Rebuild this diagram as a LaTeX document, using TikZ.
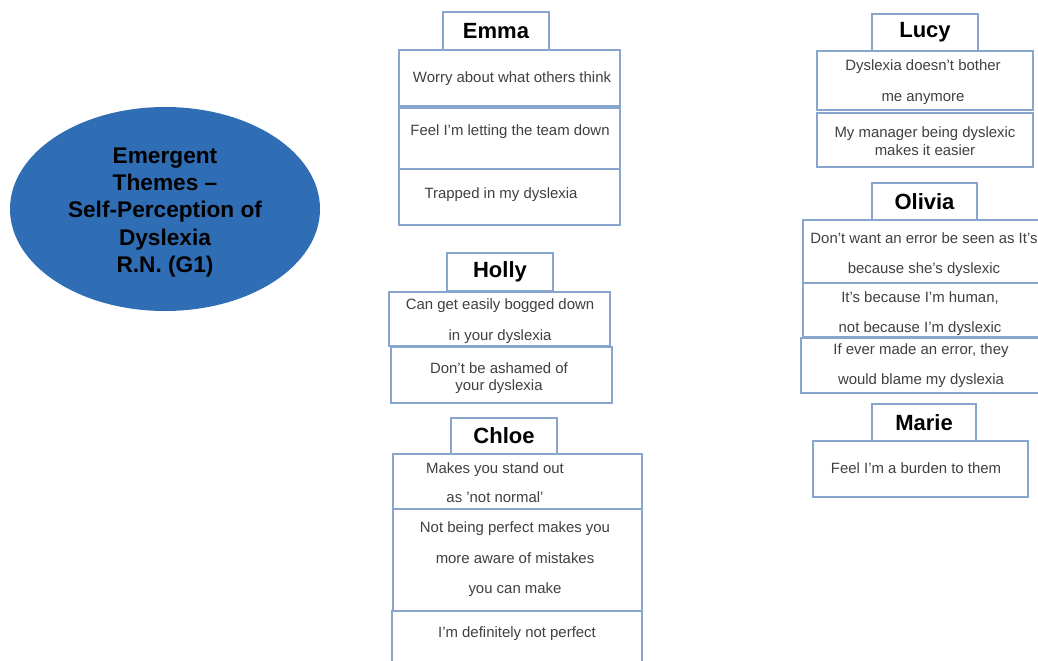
\documentclass[tikz,border=0pt]{standalone}
\usepackage{fontspec}
\setmainfont{Liberation Sans}
\usetikzlibrary{shapes.geometric}
\definecolor{blueFill}{RGB}{47,110,181}
\definecolor{boxLine}{RGB}{135,165,205}
\definecolor{txtGray}{RGB}{64,64,64}
\tikzset{
  box/.style={draw=boxLine, line width=0.8pt, fill=white, inner sep=0pt},
  head/.style={box, font=\fontsize{16.5}{19}\selectfont\bfseries, text=black},
  txt/.style={font=\fontsize{11.2}{#1}\selectfont, text=txtGray, align=center, inner sep=0pt, yshift=-1.5pt},
  txt/.default=13.5pt
}
\begin{document}
\begin{tikzpicture}[x=0.75pt,y=-0.75pt]
\useasboundingbox (0,0) rectangle (1038,660);
\clip (0,0) rectangle (1038,660);
\fill[white] (0,0) rectangle (1038,660);

% central ellipse
\node[ellipse, fill=blueFill, minimum width=232.5pt, minimum height=153pt, inner sep=0pt]
  (core) at (165,209) {};
\node[font=\fontsize{17}{20.6}\selectfont\bfseries, align=center, text=black, inner sep=0pt]
  (coretxt) at (165,212.5) {Emergent\\Themes --\\Self-Perception of\\Dyslexia\\R.N. (G1)};

% ---------- Emma ----------
\node[box, minimum width=165.75pt, minimum height=42pt] (e1) at (509.5,78) {};
\node[box, minimum width=165.75pt, minimum height=45.75pt] (e2) at (509.5,138.5) {};
\node[box, minimum width=165.75pt, minimum height=42pt] (e3) at (509.5,197) {};
\node[head, minimum width=79.5pt, minimum height=28.5pt] (emma) at (496,31) {Emma};
\node[txt] (e1t) at (512,77) {Worry about what others think};
\node[txt] (e2t) at (510,130) {Feel I'm letting the team down};
\node[txt] (e3t) at (501,193) {Trapped in my dyslexia};

% ---------- Holly ----------
\node[box, minimum width=165.75pt, minimum height=40.5pt] (h1) at (499.5,319) {};
\node[box, minimum width=165.75pt, minimum height=42pt] (h2) at (501.5,375) {};
\node[head, minimum width=79.5pt, minimum height=28.5pt] (holly) at (500,272) {Holly};
\node[txt=23.25pt] (h1t) at (500,319.5) {Can get easily bogged down\\in your dyslexia};
\node[txt=12.75pt] (h2t) at (499,376.5) {Don't be ashamed of\\your dyslexia};

% ---------- Chloe ----------
\node[box, minimum width=186.75pt, minimum height=41.25pt] (c1) at (517.5,481.5) {};
\node[box, minimum width=186.75pt, minimum height=76.5pt] (c2) at (517.5,560) {};
\node[box, minimum width=187.5pt, minimum height=51.75pt] (c3) at (517,645.5) {};
\node[head, minimum width=79.5pt, minimum height=27pt] (chloe) at (504,436) {Chloe};
\node[txt=21.75pt] (c1t) at (495,480.5) {Makes you stand out\\as 'not normal'};
\node[txt=22.9pt] (c2t) at (515,557.5) {Not being perfect makes you\\more aware of mistakes\\you can make};
\node[txt] (c3t) at (517,632) {I'm definitely not perfect};

% ---------- Lucy ----------
\node[box, minimum width=162pt, minimum height=44.25pt] (l1) at (925,80.5) {};
\node[box, minimum width=162pt, minimum height=40.5pt] (l2) at (925,140) {};
\node[head, minimum width=79.5pt, minimum height=27.75pt] (lucy) at (925,32.5) {Lucy};
\node[txt=23.25pt] (l1t) at (923,80.5) {Dyslexia doesn't bother\\me anymore};
\node[txt=13.5pt] (l2t) at (925,139) {My manager being dyslexic\\makes it easier};

% ---------- Olivia ----------
\node[box, minimum width=192.75pt, minimum height=47.25pt] (o1) at (931.5,251.5) {};
\node[box, minimum width=192.75pt, minimum height=40.5pt] (o2) at (931.5,310) {};
\node[box, minimum width=194.25pt, minimum height=41.25pt] (o3) at (930.5,365.5) {};
\node[head, minimum width=78.75pt, minimum height=27.75pt] (olivia) at (924.5,201.5) {Olivia};
\node[txt=22.5pt] (o1t) at (924,253) {Don't want an error be seen as It's\\because she's dyslexic};
\node[txt=22.5pt] (o2t) at (920,312) {It's because I'm human,\\not because I'm dyslexic};
\node[txt=22.5pt] (o3t) at (921,364) {If ever made an error, they\\would blame my dyslexia};

% ---------- Marie ----------
\node[box, minimum width=161.25pt, minimum height=42pt] (m1) at (920.5,469) {};
\node[head, minimum width=78pt, minimum height=27.75pt] (marie) at (924,422.5) {Marie};
\node[txt] (m1t) at (916,466) {Feel I'm a burden to them};
\end{tikzpicture}
\end{document}
